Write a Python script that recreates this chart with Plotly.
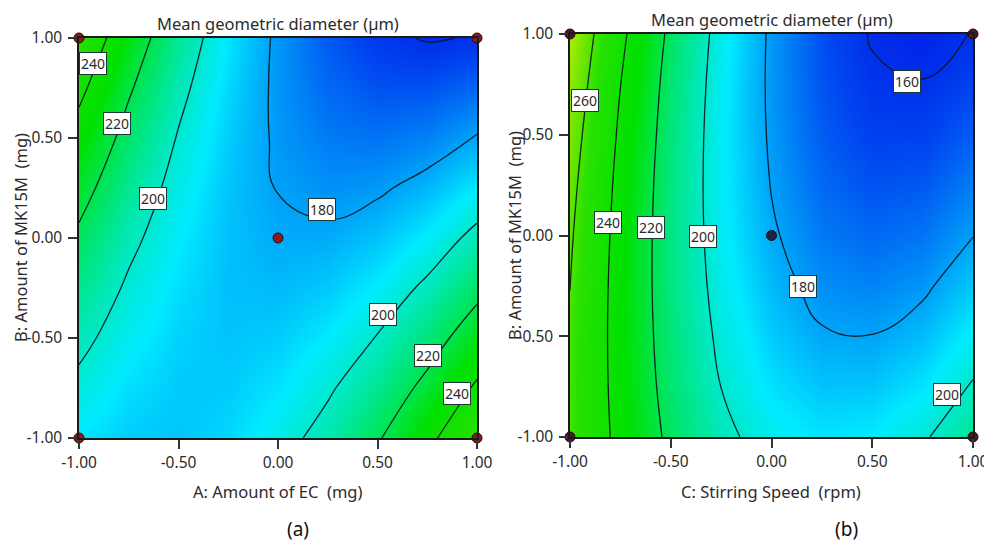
import plotly.graph_objects as go

# ---------------- data ----------------
coded_levels = [-1.0, -0.75, -0.5, -0.25, 0.0, 0.25, 0.5, 0.75, 1.0]

# Panel (a): rows = B: Amount of MK15M (-1 -> 1), cols = A: Amount of EC (-1 -> 1)
diam_a = [
    [191.5, 186.9, 186.0, 188.7, 195.0, 204.9, 218.5, 235.7, 256.5],
    [197.1, 190.0, 186.6, 186.8, 190.7, 198.2, 209.3, 224.0, 242.3],
    [203.3, 193.8, 187.9, 185.6, 187.0, 192.0, 200.6, 212.9, 228.8],
    [210.1, 198.1, 189.8, 185.0, 183.9, 186.5, 192.6, 202.4, 215.8],
    [217.5, 203.1, 192.3, 185.1, 181.5, 181.6, 185.3, 192.6, 203.5],
    [225.6, 208.7, 195.4, 185.7, 179.7, 177.3, 178.5, 183.3, 191.8],
    [234.3, 214.9, 199.1, 187.0, 178.5, 173.6, 172.4, 174.8, 180.8],
    [243.6, 221.7, 203.5, 188.9, 177.9, 170.6, 166.9, 166.8, 170.3],
    [253.5, 229.2, 208.5, 191.4, 178.0, 168.2, 162.0, 159.4, 160.5],
]

# Panel (b): rows = B: Amount of MK15M (-1 -> 1), cols = C: Stirring Speed (-1 -> 1)
diam_b = [
    [258.7, 235.3, 216.8, 203.2, 194.6, 190.9, 192.2, 198.4, 209.5],
    [258.5, 234.1, 214.5, 199.9, 190.3, 185.6, 185.8, 191.0, 201.1],
    [259.0, 233.5, 213.0, 197.4, 186.7, 180.9, 180.2, 184.3, 193.4],
    [260.1, 233.6, 212.0, 195.4, 183.7, 176.9, 175.1, 178.2, 186.3],
    [261.8, 234.3, 211.7, 194.0, 181.3, 173.5, 170.7, 172.8, 179.8],
    [264.2, 235.6, 212.0, 193.3, 179.6, 170.8, 166.9, 168.0, 174.0],
    [267.2, 237.6, 213.0, 193.2, 178.5, 168.6, 163.8, 163.8, 168.8],
    [270.8, 240.2, 214.5, 193.8, 178.0, 167.2, 161.2, 160.3, 164.2],
    [275.1, 243.5, 216.8, 195.0, 178.2, 166.3, 159.4, 157.4, 160.3],
]

# design points (coded units)
design_x = [-1, -1, 1, 1, 0]
design_y = [-1, 1, -1, 1, 0]

tick_vals = [-1.0, -0.5, 0.0, 0.5, 1.0]
tick_text = ["-1.00", "-0.50", "0.00", "0.50", "1.00"]

# contour labels: (level text, A/C coded, B coded)
labels_a = [("240", -0.93, 0.87), ("220", -0.81, 0.57), ("200", -0.63, 0.195),
            ("180", 0.22, 0.14), ("200", 0.53, -0.38), ("220", 0.754, -0.585),
            ("240", 0.90, -0.775)]
labels_b = [("260", -0.926, 0.672), ("240", -0.811, 0.067), ("220", -0.60, 0.042),
            ("200", -0.34, -0.007), ("180", 0.156, -0.255), ("160", 0.672, 0.762),
            ("200", 0.87, -0.79)]

title_text = "Mean geometric diameter (µm)"
xtitle_a = "A: Amount of EC \u00a0(mg)"
xtitle_b = "C: Stirring Speed \u00a0(rpm)"
ytitle = "B: Amount of MK15M \u00a0(mg)"

# ---------------- style ----------------
FONT = "Noto Sans"
TXT = "#2b2b2b"
W, H = 992, 543
OFF = 8  # page body margin

colorscale = [
    [0.0, "rgb(0,0,225)"],
    [0.10, "rgb(0,70,240)"],
    [0.28, "rgb(0,235,255)"],
    [0.5467, "rgb(0,225,0)"],
    [0.70, "rgb(40,225,0)"],
    [0.7667, "rgb(110,230,0)"],
    [0.8667, "rgb(200,240,0)"],
    [1.0, "rgb(250,245,0)"],
]
CMIN, CMAX = 150, 300


def fx(p):
    return (p - OFF) / W


def fy(p):
    return 1 - (p - OFF) / H


fig = go.Figure()

panels = [
    dict(z=diam_a, xa="x", ya="y", start=160, end=260, dot="#8b1a1a", center="#8b1a1a"),
    dict(z=diam_b, xa="x2", ya="y2", start=160, end=280, dot="#4a1c1c", center="#1c2444"),
]

for p in panels:
    fig.add_trace(go.Contour(
        x=coded_levels, y=coded_levels, z=p["z"],
        xaxis=p["xa"], yaxis=p["ya"],
        colorscale=colorscale, zmin=CMIN, zmax=CMAX, showscale=False,
        contours=dict(start=p["start"], end=p["end"], size=20, coloring="heatmap",
                      showlabels=False),
        line=dict(color="rgba(10,20,25,0.9)", width=1.3, smoothing=1.3),
        hoverinfo="skip",
    ))
    fig.add_trace(go.Scatter(
        x=design_x, y=design_y, xaxis=p["xa"], yaxis=p["ya"], mode="markers",
        marker=dict(size=10, color=[p["dot"]] * 4 + [p["center"]],
                    line=dict(color="#2a0808", width=1)),
        cliponaxis=False, showlegend=False, hoverinfo="skip",
    ))

axis_common = dict(
    range=[-1, 1], tickvals=tick_vals, ticktext=tick_text, ticks="outside",
    ticklen=9, tickwidth=1.5, tickcolor="#333333", showline=True,
    linecolor="#1a1a1a", linewidth=1.5, mirror=True, showgrid=False,
    zeroline=False, tickfont=dict(family=FONT, size=15.5, color=TXT),
)

fig.update_layout(
    width=W, height=H, margin=dict(l=0, r=0, t=0, b=0, autoexpand=False),
    paper_bgcolor="white", plot_bgcolor="white", showlegend=False,
    xaxis=dict(axis_common, domain=[fx(79), fx(477)], anchor="y", ticklabelstandoff=1),
    yaxis=dict(axis_common, domain=[fy(438), fy(38)], anchor="x", ticklabelstandoff=3),
    xaxis2=dict(axis_common, domain=[fx(570), fx(973)], anchor="y2", ticklabelstandoff=1),
    yaxis2=dict(axis_common, domain=[fy(437), fy(34)], anchor="x2", ticklabelstandoff=3),
)

ann = []
for lst, xr, yr in [(labels_a, "x", "y"), (labels_b, "x2", "y2")]:
    for t, lx, ly in lst:
        ann.append(dict(text=t, x=lx, y=ly, xref=xr, yref=yr, showarrow=False,
                        xanchor="center", yanchor="middle",
                        font=dict(family=FONT, size=14, color=TXT),
                        bgcolor="white", bordercolor="#1e3535", borderwidth=1,
                        borderpad=1))


def paper_text(text, x, y, size, color=TXT, **kw):
    d = dict(text=text, x=fx(x), y=fy(y), xref="paper", yref="paper",
             xanchor="center", yanchor="middle", showarrow=False,
             font=dict(family=FONT, size=size, color=color))
    d.update(kw)
    return d


ann += [
    paper_text(title_text, 278, 23, 16.5),
    paper_text(title_text, 772, 20, 16.5),
    paper_text(xtitle_a, 278, 491, 16.5),
    paper_text(xtitle_b, 771, 491, 16.5),
    paper_text(ytitle, 20, 238, 16.5, textangle=-90),
    paper_text(ytitle, 514, 236, 16.5, textangle=-90),
    paper_text("(a)", 298, 529, 19, color="#111111"),
    paper_text("(b)", 846, 529, 19, color="#111111"),
]
fig.update_layout(annotations=ann)

fig.write_html("out.html")
